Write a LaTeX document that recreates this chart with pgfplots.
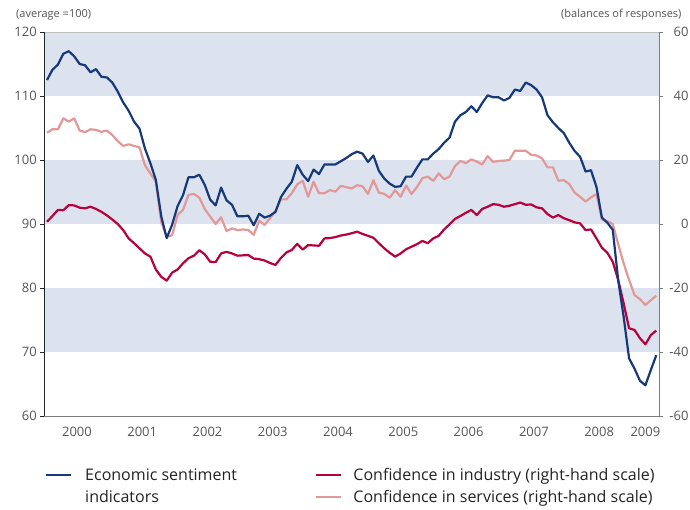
\documentclass[border=0pt]{standalone}
\usepackage{fontspec}
\setmainfont{Open Sans}
\usepackage{pgfplots}
\usepackage{pgfplotstable}
\pgfplotsset{compat=1.18}
\definecolor{esiblue}{RGB}{22,57,122}
\definecolor{indred}{RGB}{183,0,62}
\definecolor{serpink}{RGB}{227,152,152}
\definecolor{band}{RGB}{221,227,238}
\definecolor{axgray}{RGB}{125,125,125}
\definecolor{txtgray}{RGB}{85,85,85}
\definecolor{legtxt}{RGB}{35,35,35}

\pgfplotstableread{
m esi ind ser
0 112.5 0.7 28.5
1 114.1 2.5 29.6
2 114.9 4.4 29.6
3 116.6 4.3 33.0
4 117.0 5.9 32.0
5 116.2 5.8 33.0
6 115.0 5.1 29.2
7 114.8 4.9 28.7
8 113.7 5.4 29.6
9 114.2 4.7 29.4
10 113.0 3.8 28.8
11 112.9 2.7 29.2
12 112.1 1.4 27.8
13 110.7 0.0 25.9
14 109.0 -1.9 24.4
15 107.7 -4.5 24.9
16 106.0 -6.0 24.4
17 104.9 -7.6 23.9
18 101.8 -9.2 18.4
19 99.5 -10.2 15.8
20 96.9 -14.2 13.2
21 91.2 -16.5 0.6
22 87.8 -17.7 -4.0
23 89.9 -15.2 -3.5
24 92.8 -14.2 2.8
25 94.5 -12.3 4.4
26 97.3 -10.7 9.1
27 97.3 -9.9 9.4
28 97.7 -8.2 8.2
29 96.1 -9.5 4.7
30 93.8 -11.8 2.3
31 92.9 -11.9 0.0
32 95.7 -9.2 2.1
33 93.7 -8.7 -2.2
34 93.0 -9.2 -1.4
35 91.2 -9.9 -1.9
36 91.2 -9.8 -1.7
37 91.3 -9.7 -1.9
38 89.8 -10.8 -3.4
39 91.6 -11.0 1.0
40 91.0 -11.4 -0.3
41 91.3 -12.2 1.8
42 91.9 -12.8 4.1
43 94.2 -10.6 7.7
44 95.5 -8.9 7.7
45 96.6 -8.1 9.6
46 99.2 -6.2 12.4
47 97.7 -8.0 13.5
48 96.7 -6.6 8.5
49 98.5 -6.7 13.2
50 97.8 -6.8 9.6
51 99.3 -4.5 9.6
52 99.3 -4.4 10.6
53 99.3 -4.1 10.1
54 99.8 -3.6 11.9
55 100.3 -3.3 11.5
56 100.9 -2.9 11.1
57 101.3 -2.4 12.1
58 101.0 -3.1 11.8
59 99.7 -3.7 9.4
60 100.7 -4.3 13.7
61 98.3 -6.0 9.8
62 97.1 -7.6 9.4
63 96.3 -9.0 8.2
64 95.8 -10.2 10.6
65 95.9 -9.2 8.5
66 97.4 -7.9 12.0
67 97.4 -7.1 9.4
68 98.8 -6.3 11.5
69 100.1 -5.3 14.3
70 100.1 -6.0 14.8
71 101.0 -4.5 13.5
72 101.7 -3.7 15.8
73 102.7 -1.7 14.0
74 103.5 -0.1 14.8
75 106.0 1.6 18.1
76 107.0 2.5 19.7
77 107.5 3.5 19.0
78 108.4 4.4 20.2
79 107.5 2.8 19.5
80 108.9 4.7 18.6
81 110.1 5.4 21.2
82 109.8 6.2 19.4
83 109.8 6.0 19.7
84 109.3 5.4 19.8
85 109.7 5.7 20.0
86 111.0 6.2 22.9
87 110.8 6.7 22.9
88 112.1 6.0 22.9
89 111.7 6.1 21.6
90 111.0 5.2 21.4
91 109.8 4.9 20.5
92 107.0 3.1 17.7
93 105.9 2.0 17.7
94 105.0 2.8 13.5
95 104.2 1.8 13.7
96 102.7 1.2 12.5
97 101.4 0.5 9.8
98 100.5 0.2 8.5
99 98.2 -1.9 7.0
100 98.4 -1.7 8.3
101 95.8 -4.5 9.4
102 91.0 -7.4 1.4
103 90.2 -9.0 0.9
104 89.1 -11.8 0.0
105 81.2 -17.5 -6.3
106 75.5 -24.8 -12.3
107 69.0 -32.6 -17.5
108 67.4 -33.1 -22.2
109 65.5 -35.7 -23.5
110 64.8 -37.6 -25.3
111 67.2 -34.7 -23.8
112 69.5 -33.3 -22.4
}\data

\begin{document}
\begin{tikzpicture}
\path[use as bounding box] (-44.3pt,-93pt) rectangle (645.7pt,416pt);
\pgfplotsset{
  common/.style={
    at={(0pt,0pt)}, anchor=south west,
    scale only axis, width=614.7pt, height=384pt,
    xmin=-0.5, xmax=112.5,
    /pgf/number format/assume math mode=true,
    tick label style={font=\fontsize{13}{13}\selectfont, text=txtgray},
    tick align=outside,
    major tick length=4pt,
  }
}
% right-hand scale: bands, industry, services
\begin{axis}[common,
  ymin=-60, ymax=60,
  axis x line=none,
  axis y line*=right,
  ytick={-60,-40,-20,0,20,40,60},
  y axis line style={axgray, line width=0.9pt},
  ytick style={axgray, line width=0.9pt},
  yticklabel style={anchor=east, xshift=29pt},
]
\fill[band] (axis cs:-0.5,40) rectangle (axis cs:112.5,60);
\fill[band] (axis cs:-0.5,0) rectangle (axis cs:112.5,20);
\fill[band] (axis cs:-0.5,-40) rectangle (axis cs:112.5,-20);
\draw[axgray!50, line width=0.6pt] (axis cs:-0.5,60) -- (axis cs:112.5,60);
\addplot[serpink, line width=2.2pt, line join=round] table[x=m, y=ser]{\data};
\addplot[indred, line width=2.2pt, line join=round] table[x=m, y=ind]{\data};
\end{axis}
% left-hand scale: ESI, x axis, legend
\begin{axis}[common,
  ymin=60, ymax=120,
  axis y line*=left,
  axis x line*=bottom,
  ytick={60,70,...,120},
  y axis line style={black!85, line width=0.8pt},
  ytick style={black!85, line width=0.8pt},
  x axis line style={axgray, line width=0.9pt},
  xtick={5.5,17.5,29.5,41.5,53.5,65.5,77.5,89.5,101.5,110},
  xticklabels={2000,2001,2002,2003,2004,2005,2006,2007,2008,2009},
  xtick style={draw=none},
  minor xtick={-0.5,11.5,23.5,35.5,47.5,59.5,71.5,83.5,95.5,107.5},
  minor tick length=5pt,
  minor x tick style={axgray, line width=0.9pt},
  xticklabel style={yshift=-4pt},
  legend columns=2,
  legend cell align=left,
  legend image code/.code={\draw[#1] (0pt,0pt) -- (25pt,0pt);},
  legend style={draw=none, fill=none, at={(-0.004,-0.125)}, anchor=north west,
    font=\fontsize{16}{19}\selectfont, text=legtxt, row sep=4pt,
    /tikz/every odd column/.append style={column sep=6pt},
    /tikz/every even column/.append style={column sep=9pt}},
]
\addplot[esiblue, line width=2.2pt, line join=round] table[x=m, y=esi]{\data};
\addlegendentry{\makebox[224pt][l]{\hspace*{5pt}Economic sentiment}}
\addlegendimage{indred, line width=2.2pt}
\addlegendentry{\hspace*{3pt}Confidence in industry (right-hand scale)}
\addlegendimage{white, opacity=0}
\addlegendentry{\hspace*{5pt}indicators}
\addlegendimage{serpink, line width=2.2pt}
\addlegendentry{\hspace*{3pt}Confidence in services (right-hand scale)}
\end{axis}
\node[anchor=base west, font=\fontsize{11}{11}\selectfont, text=txtgray] at (-31.6pt,398pt) {(average =100)};
\node[anchor=base east, font=\fontsize{11}{11}\selectfont, text=txtgray] at (640.7pt,398pt) {(balances of responses)};
\end{tikzpicture}
\end{document}
